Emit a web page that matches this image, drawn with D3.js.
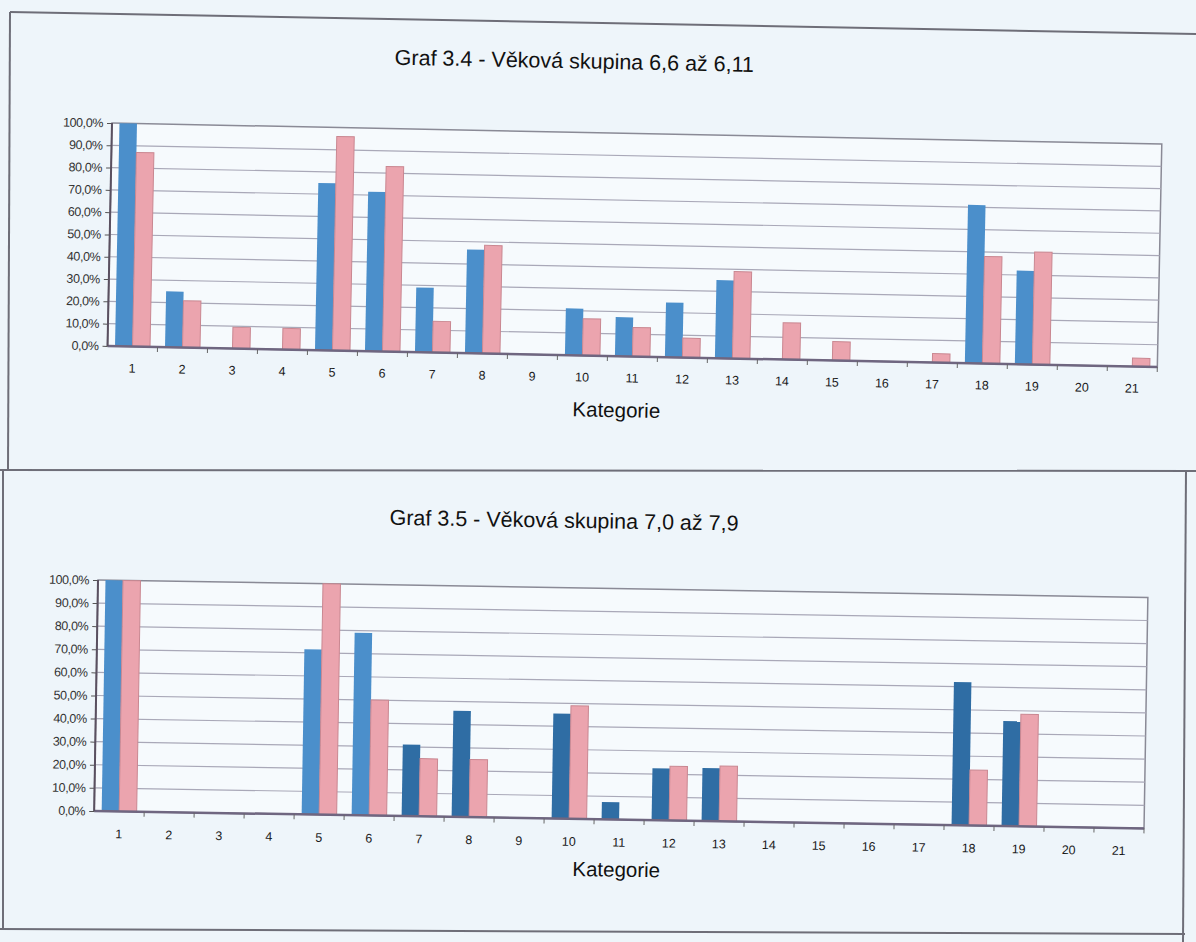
<!DOCTYPE html>
<meta charset="utf-8">
<style>
    body { margin: 0; background: #eef5fa; }
    text { font-family: "Liberation Sans", Arial, sans-serif; }
    .grid line { stroke: #a9a8b8; stroke-width: 1.2; }
    .axis path { display: none; }
    .axis line { stroke: #555; }
    .axis text { fill: #333; font-size: 12.5px; letter-spacing: -0.4px; }
</style>
<body>
<script src="https://cdn.jsdelivr.net/npm/d3@7"></script>
<script>

    var categories = ["1","2","3","4","5","6","7","8","9","10","11","12","13","14","15","16","17","18","19","20","21"];
    var yTicks = [0, 10, 20, 30, 40, 50, 60, 70, 80, 90, 100];

    // Graf 3.4
    var title34 = "Graf 3.4 - Věková skupina 6,6 až 6,11";
    var blue34 = [100, 25, 0, 0, 75, 71.5, 29, 46.5, 0, 21, 17.5, 24.5, 35, 0, 0, 0, 0, 71, 42, 0, 0];
    var pink34 = [87, 21, 9.5, 9.5, 96, 83, 14, 48.5, 0, 16.5, 13, 8.7, 39, 16.5, 8.5, 0, 4, 48, 50.5, 0, 3.8];

    // Graf 3.5
    var title35 = "Graf 3.5 - Věková skupina 7,0 až 7,9";
    var blue35 = [100, 0, 0, 0, 71.5, 79, 31, 46, 0, 45.5, 7.5, 22.5, 23, 0, 0, 0, 0, 62, 45.5, 0, 0];
    var pink35 = [100, 0, 0, 0, 100, 50, 25, 25, 0, 49, 0, 23.5, 24, 0, 0, 0, 0, 24, 48.5, 0, 0];

    var xLabel = "Kategorie";

    var W = 1196, H = 942;
    var svg = d3.select("body").append("svg").attr("width", W).attr("height", H);

    svg.append("rect").attr("width", W).attr("height", H).attr("fill", "#eef5fa");

    // page frames of the scan
    var frame = svg.append("g").attr("stroke", "#6e6e78").attr("stroke-width", 2).attr("fill", "none");
    frame.append("line").attr("x1", 10).attr("y1", 12).attr("x2", 1196).attr("y2", 34);
    frame.append("line").attr("x1", 10).attr("y1", 12).attr("x2", 8).attr("y2", 470);
    frame.append("line").attr("x1", 0).attr("y1", 470).attr("x2", 1196).attr("y2", 471);
    frame.append("line").attr("x1", 3).attr("y1", 470).attr("x2", 3).attr("y2", 930);
    frame.append("line").attr("x1", 0).attr("y1", 929).attr("x2", 1185).attr("y2", 934);
    frame.append("line").attr("x1", 1186).attr("y1", 470).attr("x2", 1183).attr("y2", 942);

    function pct(d) { return d.toFixed(1).replace(".", ",") + "%"; }

    function drawChart(opt) {
        var g = svg.append("g")
                .attr("transform", "translate(" + opt.x + "," + opt.y + ") rotate(" + opt.rot + ")");

        var x = d3.scaleBand().domain(categories).range([0, opt.w]).paddingInner(0.3).paddingOuter(0.15);
        var xs = d3.scaleBand().domain(["a", "b"]).range([0, x.bandwidth()]);
        var y = d3.scaleLinear().domain([0, 100]).range([opt.h, 0]);
        var step = x.step();

        g.append("rect")
                .attr("width", opt.w).attr("height", opt.h)
                .attr("fill", "#f6fafd").attr("stroke", "#8a8a96").attr("stroke-width", 1.5);

        g.append("g").attr("class", "grid")
                .selectAll("line")
                .data(yTicks.slice(1, -1))
                .enter().append("line")
                .attr("x1", 0).attr("x2", opt.w)
                .attr("y1", function(d) { return y(d); })
                .attr("y2", function(d) { return y(d); });

        var rows = categories.map(function(c, i) { return {c: c, a: opt.blue[i], b: opt.pink[i]}; });

        var grp = g.selectAll(".cat")
                .data(rows)
                .enter().append("g")
                .attr("transform", function(d) { return "translate(" + x(d.c) + ",0)"; });

        grp.filter(function(d) { return d.a > 0; })
                .append("rect")
                .attr("x", xs("a"))
                .attr("width", xs.bandwidth())
                .attr("y", function(d) { return y(d.a); })
                .attr("height", function(d) { return y(0) - y(d.a); })
                .attr("fill", function(d) { return opt.dark && opt.dark.indexOf(d.c) >= 0 ? "#2f6da4" : "#4b8fcb"; });

        grp.filter(function(d) { return d.b > 0; })
                .append("rect")
                .attr("x", xs("b"))
                .attr("width", xs.bandwidth())
                .attr("y", function(d) { return y(d.b); })
                .attr("height", function(d) { return y(0) - y(d.b); })
                .attr("fill", "#eba4ae")
                .attr("stroke", "#c98791").attr("stroke-width", 1);

        // floor line
        g.append("line")
                .attr("x1", 0).attr("x2", opt.w)
                .attr("y1", y(0)).attr("y2", y(0))
                .attr("stroke", "#6f6680").attr("stroke-width", 2.5);

        // y axis
        g.append("g").attr("class", "axis")
                .call(d3.axisLeft(y).tickValues(yTicks).tickFormat(pct).tickSize(5).tickPadding(4));
        g.append("line").attr("x1", 0).attr("x2", 0).attr("y1", 0).attr("y2", opt.h)
                .attr("stroke", "#5a5060").attr("stroke-width", 2);

        // x ticks between categories
        g.append("g")
                .selectAll("line")
                .data(categories)
                .enter().append("line")
                .attr("x1", function(d) { return x(d) - (step - x.bandwidth()) / 2 + step; })
                .attr("x2", function(d) { return x(d) - (step - x.bandwidth()) / 2 + step; })
                .attr("y1", opt.h).attr("y2", opt.h + 5)
                .attr("stroke", "#666");

        g.append("g")
                .selectAll("text")
                .data(categories)
                .enter().append("text")
                .attr("x", function(d) { return x(d) + x.bandwidth() / 2; })
                .attr("y", opt.h + opt.labelDy)
                .attr("text-anchor", "middle")
                .attr("font-size", 12.5)
                .attr("fill", "#1a1a1a")
                .text(function(d) { return d; });

        g.append("text")
                .attr("x", opt.titleX).attr("y", opt.titleY)
                .attr("text-anchor", "middle")
                .attr("font-size", 21.5)
                .attr("fill", "#111")
                .text(opt.title);

        g.append("text")
                .attr("x", opt.kx).attr("y", opt.h + opt.kdy)
                .attr("text-anchor", "middle")
                .attr("font-size", 20.5)
                .attr("fill", "#111")
                .text(xLabel);
    }

    drawChart({
        x: 112, y: 123, w: 1050, h: 223, rot: 1.15,
        blue: blue34, pink: pink34, title: title34,
        titleX: 461, titleY: -64, labelDy: 26, kx: 510, kdy: 61
    });

    drawChart({
        x: 98, y: 580, w: 1050, h: 231, rot: 0.95,
        blue: blue35, pink: pink35, title: title35,
        dark: ["7", "8", "10", "11", "12", "13", "18", "19"],
        titleX: 465, titleY: -60, labelDy: 27, kx: 523, kdy: 57
    });

</script>
</body>
